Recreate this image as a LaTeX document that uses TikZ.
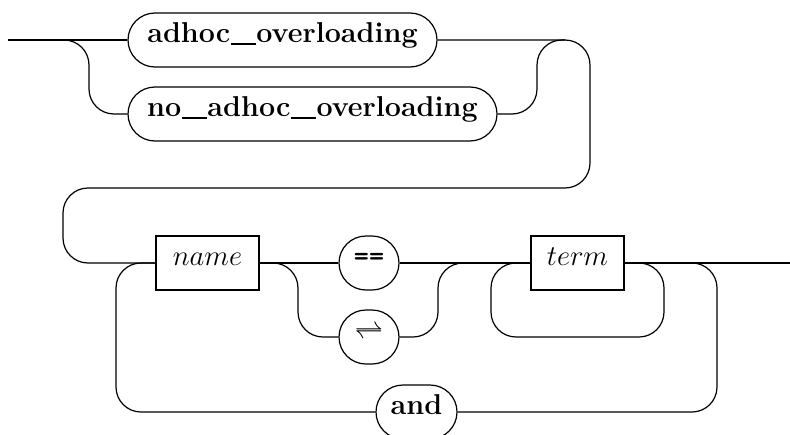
\RequirePackage{fix-cm}
\documentclass[tikz,border=0pt]{standalone}
\usepackage{fontspec}
\usetikzlibrary{calc}
\newcommand{\usc}{\kern0.03em\rule[-0.09em]{0.85em}{0.09em}\kern0.03em}
\begin{document}
\begin{tikzpicture}[x=1pt,y=-1pt,
  every node/.style={font=\fontsize{28.7}{34}\selectfont},
  basebox/.style={draw, line width=1.2pt, minimum height=54pt, inner sep=0pt, text height=0.69em, text depth=0.19em},
  roundbox/.style={basebox, rounded corners=27pt},
  sqbox/.style={basebox},
  conn/.style={line width=1.2pt, rounded corners=25pt}]
\useasboundingbox (0,0) rectangle (790,434);
\node[roundbox, minimum width=309pt] (adhoc) at (282.5,40) {\bfseries adhoc\usc overloading};
\node[roundbox, minimum width=369pt] (noadhoc) at (312.5,114) {\bfseries no\usc adhoc\usc overloading};
\node[sqbox, minimum width=103pt] (name) at (207.5,263) {$name$};
\node[roundbox, minimum width=60pt] (eq) at (369,263) {\ttfamily\bfseries ==};
\node[roundbox, minimum width=60pt] (rl) at (369,337) {$\rightleftharpoons$};
\node[sqbox, minimum width=93pt] (trm) at (577.5,263) {$term$};
\node[roundbox, minimum width=81pt] (andn) at (416.5,412) {\bfseries and};
\coordinate (start) at (8,40);
\coordinate (end) at (790,263);
\coordinate (join) at (565,40);
% top part
\draw[conn] (start) -- (adhoc.west);
\draw[conn] (start) -| (89,114) -- (noadhoc.west);
\draw[conn] (adhoc.east) -- (590,40) -- (590,188) -- (63,188) -- (63,263) -- (name.west);
\draw[conn] (noadhoc.east) -| (537,40) -- (join);
% bottom part
\draw[conn] (name.east) -- (eq.west);
\draw[conn] (name.east) -| (298,337) -- (rl.west);
\draw[conn] (eq.east) -- (trm.west);
\draw[conn] (rl.east) -| (438,263) -- (trm.west);
\draw[conn] (trm.east) -- (664,263) -- (664,337) -- (491,337) -- (491,263) -- (trm.west);
\draw[conn] (trm.east) -- (717,263) -- (717,412) -- (andn.east);
\draw[conn] (andn.west) -- (116,412) -- (116,263) -- (name.west);
\draw[conn] (trm.east) -- (end);
\end{tikzpicture}
\end{document}
